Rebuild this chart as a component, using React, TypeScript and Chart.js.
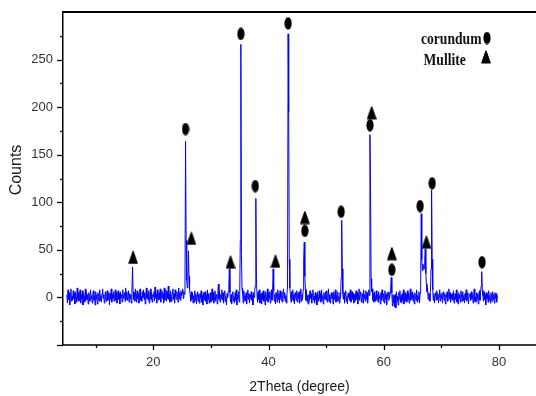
import React, { useEffect, useRef } from 'react';
import { Chart, registerables } from 'chart.js';

Chart.register(...registerables);

// XRD pattern sampled every 0.1 degree from 5.0 to 79.7 (2Theta)
const START_2THETA = 5.0;
const STEP_2THETA = 0.1;
const counts: number[] = [
  3, -6, 8, -2, 5, -8, 2, 9, -4, 1,
  -3, 7, -1, 4, -7, 6, 0, -5, 10, -2,
  5, -4, 2, 8, -6, 3, -1, 7, -8, 4,
  1, -5, 9, -3, 6, -2, 3, -7, 5, 0,
  -4, 8, -1, 2, -6, 4, 7, -3, 1, -8,
  6, -2, 3, -7, 5, 1, -4, 8, -3, 2,
  -5, 4, 9, -1, 3, -6, 2, 6, -4, 1,
  7, -3, 0, 5, -8, 4, -2, 9, -5, 3,
  -1, 6, -4, 2, 8, -3, 5, -6, 1, 7,
  -2, 4, -7, 6, 0, 3, -5, 8, -1, 2,
  5, -4, 10, -2, 6, -3, 1, 7, -5, 4,
  -1, 3, -6, 8, 32, 6, -2, 5, -4, 9,
  2, -5, 7, -1, 4, -6, 3, 9, -3, 1,
  -4, 6, 0, 8, -2, 5, -7, 3, 10, -1,
  4, -3, 7, -6, 2, 9, -2, 5, -5, 3,
  1, 6, -4, 11, -1, 4, -6, 8, 0, -3,
  5, -2, 9, -5, 3, 7, -1, 4, -6, 10,
  -3, 2, 8, -4, 6, -1, 12, -2, 3, -5,
  7, 0, -4, 5, 9, -2, 4, -6, 8, 1,
  -2, 6, 3, -5, 10, -1, 5, -3, 7, 2,
  4, 9, -1, 6, 3, 12, 164, 60, 18, 10,
  12, 49, 22, 8, 3, -4, 6, -2, 5, -6,
  2, -5, 7, -3, 4, -7, 1, 6, -4, 3,
  -6, 4, -1, 7, -5, 2, -8, 5, 0, -3,
  6, -4, 3, -7, 8, -2, 4, -6, 1, 5,
  -5, 2, 9, -3, 5, -6, 0, 7, -4, 3,
  1, -7, 4, 14, -2, 6, -5, 3, -1, 8,
  -3, 5, -6, 2, 7, -4, 1, -8, 4, 0,
  6, 8, 30, 5, -5, 3, -7, 2, 6, -4,
  1, -6, 5, -3, 8, -8, 2, -1, 6, -5,
  3, 60, 266, 45, 10, 4, -6, 7, -3, 2,
  -4, 5, -7, 1, 8, -2, 4, -6, 3, -1,
  6, -3, 2, -8, 5, 0, 7, 12, 104, 20,
  3, -5, 6, -2, 8, -6, 1, 4, -7, 5,
  -2, 7, -4, 3, -8, 6, 0, -3, 9, -5,
  4, -1, 6, -6, 2, 8, -3, 5, 30, 7,
  -4, 3, -7, 5, 1, -5, 8, -2, 4, -6,
  7, 0, -3, 6, -5, 3, 9, -1, 5, -4,
  2, -6, 4, 12, 277, 195, 40, 10, 3, -5,
  6, -2, 8, -4, 3, -7, 5, 1, -3, 7,
  -5, 4, -1, 6, -6, 2, 9, -4, 3, -2,
  8, 40, 58, 22, 9, -3, 6, -5, 2, -7,
  3, -4, 7, -1, 4, -6, 2, 8, -3, 1,
  -6, 5, -2, 3, -8, 6, 0, -4, 7, -1,
  4, -5, 8, -3, 2, -7, 5, 1, -2, 6,
  -3, 7, -5, 2, 9, -4, 3, -6, 1, 5,
  -1, 4, -7, 6, -2, 3, 8, -5, 2, -4,
  6, -3, 1, -6, 5, -1, 20, 81, 30, 4,
  -2, 5, -6, 3, 7, -4, 1, -7, 4, 0,
  5, -3, 8, -5, 2, 6, -2, 4, -6, 3,
  -4, 1, 7, -2, 5, -7, 3, 9, -3, 2,
  6, -5, 0, 4, -6, 8, -1, 3, -4, 7,
  -2, 5, -6, 3, 8, 2, 171, 120, 20, 6,
  9, -3, 4, -5, 6, 1, -4, 7, -2, 3,
  -5, 6, -1, 2, -7, 5, -3, 8, 0, -4,
  4, -6, 7, -2, 3, -8, 5, 1, -3, 6,
  -1, 4, 10, 21, 5, -9, 3, -6, 2, -10,
  3, -11, 6, -4, 1, -8, 5, -2, 7, -5,
  2, -6, 4, -3, 8, -7, 0, 5, -4, 3,
  -5, 7, -2, 4, -6, 2, 9, -3, 5, -1,
  6, -4, 3, -7, 5, 0, -3, 8, -5, 2,
  -2, 6, -6, 4, 10, 88, 40, 28, 35, 30,
  30, 38, 51, 25, 14, 6, 10, -2, 5, 3,
  -4, 5, 30, 113, 40, 8, -3, 4, -6, 2,
  5, -3, 7, -2, 4, -6, 1, 8, -4, 3,
  -1, 5, -6, 2, 6, -3, 4, -7, 3, 0,
  6, -4, 2, 9, -2, 5, -5, 3, -1, 4,
  -3, 7, -6, 1, 4, -2, 8, -5, 2, -7,
  5, -1, 3, -5, 7, 0, -4, 6, -3, 2,
  -6, 4, -2, 8, -4, 2, 5, -7, 1, 3,
  4, -3, 6, -1, 3, -6, 2, 9, -4, 0,
  -5, 5, -2, 4, -7, 3, 7, -3, 5, 12,
  27, 8, 2, -4, 6, -2, 3, -8, 5, -1,
  4, -5, 7, -3, 2, -6, 5, 0, -4, 6,
  -2, 3, -6, 5, -1, 4, -5, 2,
];

// phase markers (2Theta, counts)
const corundumX = [25.6, 35.2, 37.7, 43.4, 46.3, 52.6, 57.6, 61.4, 66.3, 68.4, 77.05];
const corundumY = [177, 277, 117, 288, 70, 90, 181, 29, 96, 120, 37];
const mulliteX = [16.5, 26.6, 33.4, 41.2, 46.3, 57.9, 61.4, 67.4];
const mulliteY = [42, 62, 37, 38, 84, 194, 46, 58];

const X_MIN = 4.33;
const X_MAX = 86.42;
const Y_MIN = -50;
const Y_MAX = 300;
const X_STEP = 10;
const Y_STEP = 25;

const X_TITLE = '2Theta (degree)';
const Y_TITLE = 'Counts';
const LEGEND_LABELS = ['corundum', 'Mullite'];

const TICK_FONT = "'Liberation Sans Narrow', 'Arial Narrow', Arial, sans-serif";

function makeEllipse(): HTMLCanvasElement {
  const c = document.createElement('canvas');
  c.width = 8;
  c.height = 13;
  const g = c.getContext('2d')!;
  g.fillStyle = '#000';
  g.beginPath();
  g.ellipse(4, 6.5, 3.6, 6.2, 0, 0, Math.PI * 2);
  g.fill();
  return c;
}

function makeTriangle(): HTMLCanvasElement {
  const c = document.createElement('canvas');
  c.width = 10;
  c.height = 14;
  const g = c.getContext('2d')!;
  g.fillStyle = '#000';
  g.strokeStyle = '#000';
  g.lineJoin = 'round';
  g.lineWidth = 1.2;
  g.beginPath();
  g.moveTo(5, 1);
  g.lineTo(9.2, 13);
  g.lineTo(0.8, 13);
  g.closePath();
  g.fill();
  g.stroke();
  return c;
}

const axisDecor = {
  id: 'axisDecor',
  afterDraw(chart: any) {
    const { ctx, chartArea, scales } = chart;
    const x = scales.x;
    const y = scales.y;
    ctx.save();
    ctx.strokeStyle = '#000';
    ctx.lineWidth = 1.3;
    x.ticks.forEach((t: any) => {
      const v = t.value;
      if (Math.abs(v / 10 - Math.round(v / 10)) > 1e-6) return;
      const px = Math.round(x.getPixelForValue(v)) + 0.5;
      const len = v % 20 === 0 ? 5 : 3;
      ctx.beginPath();
      ctx.moveTo(px, chartArea.bottom);
      ctx.lineTo(px, chartArea.bottom + len);
      ctx.stroke();
    });
    y.ticks.forEach((t: any) => {
      const v = t.value;
      if (v >= Y_MAX) return;
      const py = Math.round(y.getPixelForValue(v)) + 0.5;
      const len = v % 50 === 0 ? 6 : 3;
      ctx.beginPath();
      ctx.moveTo(chartArea.left - len, py);
      ctx.lineTo(chartArea.left, py);
      ctx.stroke();
    });
    // top frame line
    ctx.lineWidth = 2;
    ctx.beginPath();
    ctx.moveTo(chartArea.left - 1, chartArea.top);
    ctx.lineTo(chartArea.right, chartArea.top);
    ctx.stroke();

    // y axis title
    ctx.fillStyle = '#1a1a1a';
    ctx.font = '16px Arial, "Liberation Sans", sans-serif';
    ctx.textAlign = 'center';
    ctx.textBaseline = 'alphabetic';
    ctx.translate(20.5, 170);
    ctx.rotate(-Math.PI / 2);
    ctx.fillText(Y_TITLE, 0, 0);
    ctx.restore();
  },
};

const markerLegend = {
  id: 'markerLegend',
  afterDraw(chart: any) {
    const { ctx } = chart;
    const items = [
      { ds: 1, tx: 421, ty: 44, mx: 487, my: 38 },
      { ds: 2, tx: 423.5, ty: 65, mx: 486, my: 57 },
    ];
    ctx.save();
    items.forEach((it) => {
      const ds = chart.data.datasets[it.ds];
      ctx.save();
      ctx.fillStyle = '#111';
      ctx.font = 'bold 16px "Liberation Serif", "Times New Roman", serif';
      ctx.textAlign = 'left';
      ctx.textBaseline = 'alphabetic';
      ctx.translate(it.tx, it.ty);
      ctx.scale(0.85, 1);
      ctx.fillText(ds.label, 0, 0);
      ctx.restore();
      const img = ds.pointStyle as HTMLCanvasElement;
      ctx.drawImage(img, it.mx - img.width / 2, it.my - img.height / 2);
    });
    ctx.restore();
  },
};

export default function App() {
  const canvasRef = useRef<HTMLCanvasElement | null>(null);

  useEffect(() => {
    const canvas = canvasRef.current;
    if (!canvas) return;
    const ellipse = makeEllipse();
    const triangle = makeTriangle();

    const spectrum = counts.map((c, i) => ({
      x: +(START_2THETA + i * STEP_2THETA).toFixed(2),
      y: c,
    }));
    const corundum = corundumX.map((x, i) => ({ x, y: corundumY[i] }));
    const mullite = mulliteX.map((x, i) => ({ x, y: mulliteY[i] }));

    const chart = new Chart(canvas, {
      type: 'line',
      data: {
        datasets: [
          {
            label: 'XRD',
            data: spectrum,
            borderColor: 'rgb(0,0,255)',
            borderWidth: 1,
            pointRadius: 0,
            tension: 0,
            fill: false,
          },
          {
            label: LEGEND_LABELS[0],
            data: corundum,
            showLine: false,
            pointStyle: ellipse as any,
            pointRadius: 6,
            backgroundColor: '#000',
            borderColor: '#000',
          },
          {
            label: LEGEND_LABELS[1],
            data: mullite,
            showLine: false,
            pointStyle: triangle as any,
            pointRadius: 6,
            backgroundColor: '#000',
            borderColor: '#000',
          },
        ],
      },
      options: {
        responsive: false,
        devicePixelRatio: 1,
        animation: false,
        layout: { autoPadding: false, padding: { top: 12, left: 0, right: 0, bottom: 0 } },
        plugins: {
          legend: { display: false },
          tooltip: { enabled: false },
        },
        scales: {
          x: {
            type: 'linear',
            min: X_MIN,
            max: X_MAX,
            afterFit: (s: any) => {
              s.height = 51;
              s.paddingLeft = 0;
              s.paddingRight = 0;
            },
            grid: { display: false, drawTicks: false },
            border: { display: true, color: '#3a3a3a', width: 2 },
            ticks: {
              stepSize: X_STEP,
              includeBounds: false,
              autoSkip: false,
              maxRotation: 0,
              padding: 10,
              color: '#333',
              font: { family: TICK_FONT, size: 13 },
              callback: (v: any) => (Math.abs(v % 20) < 1e-6 ? String(v) : ''),
            },
            title: {
              display: true,
              text: X_TITLE,
              color: '#1a1a1a',
              font: { family: 'Arial, "Liberation Sans", sans-serif', size: 14 },
              padding: { top: 0, bottom: 0 },
            },
          },
          y: {
            type: 'linear',
            min: Y_MIN,
            max: Y_MAX,
            afterFit: (s: any) => {
              s.width = 63;
              s.paddingTop = 0;
              s.paddingBottom = 0;
            },
            grid: { display: false, drawTicks: false },
            border: { display: true, color: '#000', width: 1.5 },
            ticks: {
              stepSize: Y_STEP,
              autoSkip: false,
              padding: 10,
              color: '#333',
              font: { family: TICK_FONT, size: 13 },
              callback: (v: any) =>
                v % 50 === 0 && v >= 0 && v < Y_MAX ? String(v) : '',
            },
          },
        },
      },
      plugins: [axisDecor, markerLegend],
    });

    return () => {
      chart.destroy();
    };
  }, []);

  return (
    <div style={{ position: 'fixed', left: 0, top: 0, width: 536, height: 396, background: '#fff' }}>
      <canvas ref={canvasRef} width={536} height={396} style={{ display: 'block' }} />
    </div>
  );
}
